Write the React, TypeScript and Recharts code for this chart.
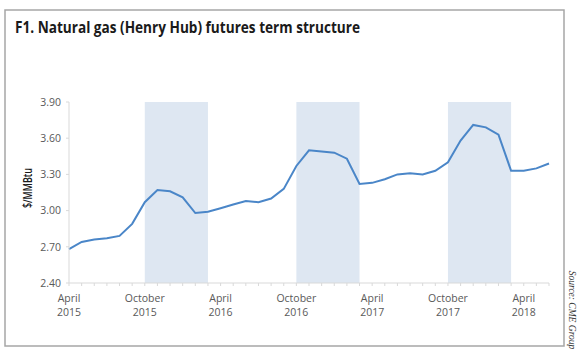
import React from "react";
import { LineChart, Line, XAxis, YAxis, ReferenceArea } from "recharts";

const months = [
  "2015-04", "2015-05", "2015-06", "2015-07", "2015-08", "2015-09",
  "2015-10", "2015-11", "2015-12", "2016-01", "2016-02", "2016-03",
  "2016-04", "2016-05", "2016-06", "2016-07", "2016-08", "2016-09",
  "2016-10", "2016-11", "2016-12", "2017-01", "2017-02", "2017-03",
  "2017-04", "2017-05", "2017-06", "2017-07", "2017-08", "2017-09",
  "2017-10", "2017-11", "2017-12", "2018-01", "2018-02", "2018-03",
  "2018-04", "2018-05", "2018-06",
];

const prices = [
  2.68, 2.74, 2.76, 2.77, 2.79, 2.89,
  3.07, 3.17, 3.16, 3.11, 2.98, 2.99,
  3.02, 3.05, 3.08, 3.07, 3.10, 3.18,
  3.37, 3.50, 3.49, 3.48, 3.43, 3.22,
  3.23, 3.26, 3.30, 3.31, 3.30, 3.33,
  3.40, 3.58, 3.71, 3.69, 3.63, 3.33,
  3.33, 3.35, 3.39,
];

const tickMonths = ["2015-04", "2015-10", "2016-04", "2016-10", "2017-04", "2017-10", "2018-04"];
const tickLabels = [
  ["April", "2015"], ["October", "2015"], ["April", "2016"], ["October", "2016"],
  ["April", "2017"], ["October", "2017"], ["April", "2018"],
];

const winterStarts = ["2015-10", "2016-10", "2017-10"];
const winterEnds = ["2016-03", "2017-03", "2018-03"];

const yTicks = [2.4, 2.7, 3.0, 3.3, 3.6, 3.9];

const title = "F1. Natural gas (Henry Hub) futures term structure";
const yLabel = "$/MMBtu";
const source = "Source: CME Group";

const data = months.map((m, i) => ({ month: m, price: prices[i] }));

const FONT = "'Open Sans', 'Noto Sans', sans-serif";
const AXIS_GRAY = "#d9d9d9";
const TEXT_GRAY = "#595959";

const XTick = (props: any) => {
  const { x, y, payload } = props;
  const idx = tickMonths.indexOf(payload.value);
  if (idx < 0) return <g />;
  const [a, b] = tickLabels[idx];
  return (
    <g>
      <text x={x} y={y + 13.5} textAnchor="middle" fontSize={10.5} fontFamily={FONT} fill={TEXT_GRAY}>
        {a}
      </text>
      <text x={x} y={y + 28} textAnchor="middle" fontSize={10.5} fontFamily={FONT} fill={TEXT_GRAY}>
        {b}
      </text>
    </g>
  );
};

export default function App() {
  return (
    <div style={{ position: "absolute", left: 0, top: 0, width: 580, height: 358, background: "#fff" }}>
      <LineChart
        width={580}
        height={358}
        data={data}
        margin={{ top: 102, right: 31, bottom: 35, left: 9 }}
      >
        {winterStarts.map((s, i) => (
          <ReferenceArea
            key={s}
            x1={s}
            x2={winterEnds[i]}
            y1={2.4}
            y2={3.9}
            fill="#dee7f2"
            fillOpacity={1}
            stroke="none"
            ifOverflow="extendDomain"
          />
        ))}
        <XAxis
          dataKey="month"
          interval={0}
          height={40}
          tick={<XTick />}
          tickSize={3}
          tickMargin={2}
          axisLine={{ stroke: AXIS_GRAY }}
          tickLine={{ stroke: AXIS_GRAY }}
        />
        <YAxis
          width={60}
          domain={[2.4, 3.9]}
          ticks={yTicks}
          tickFormatter={(v: number) => v.toFixed(2)}
          tickSize={3}
          tickMargin={5}
          axisLine={{ stroke: AXIS_GRAY }}
          tickLine={{ stroke: AXIS_GRAY }}
          tick={{ fontSize: 10.5, fontFamily: FONT, fill: TEXT_GRAY }}
        />
        <Line
          type="linear"
          dataKey="price"
          stroke="#4a86c8"
          strokeWidth={2}
          dot={false}
          isAnimationActive={false}
        />
      </LineChart>
      <svg
        width={580}
        height={358}
        style={{ position: "absolute", left: 0, top: 0, pointerEvents: "none" }}
      >
        <rect x={5} y={10} width={559} height={336} fill="none" stroke="#a6a6a6" strokeWidth={1.5} />
        <text
          x={15}
          y={33}
          fontSize={16}
          fontWeight={700}
          fontFamily={FONT}
          fill="#1a1a1a"
          textLength={345}
          lengthAdjust="spacingAndGlyphs"
        >
          {title}
        </text>
        <text
          x={0}
          y={0}
          transform="translate(32,188) rotate(-90)"
          textAnchor="middle"
          fontSize={12.5}
          fontWeight={600}
          fontFamily={FONT}
          fill="#1a1a1a"
          textLength={40}
          lengthAdjust="spacingAndGlyphs"
        >
          {yLabel}
        </text>
        <text
          x={0}
          y={0}
          transform="translate(569,310) rotate(90)"
          textAnchor="middle"
          fontSize={9.5}
          fontStyle="italic"
          fontFamily="'Liberation Serif', 'DejaVu Serif', serif"
          fill="#333"
        >
          {source}
        </text>
      </svg>
    </div>
  );
}
